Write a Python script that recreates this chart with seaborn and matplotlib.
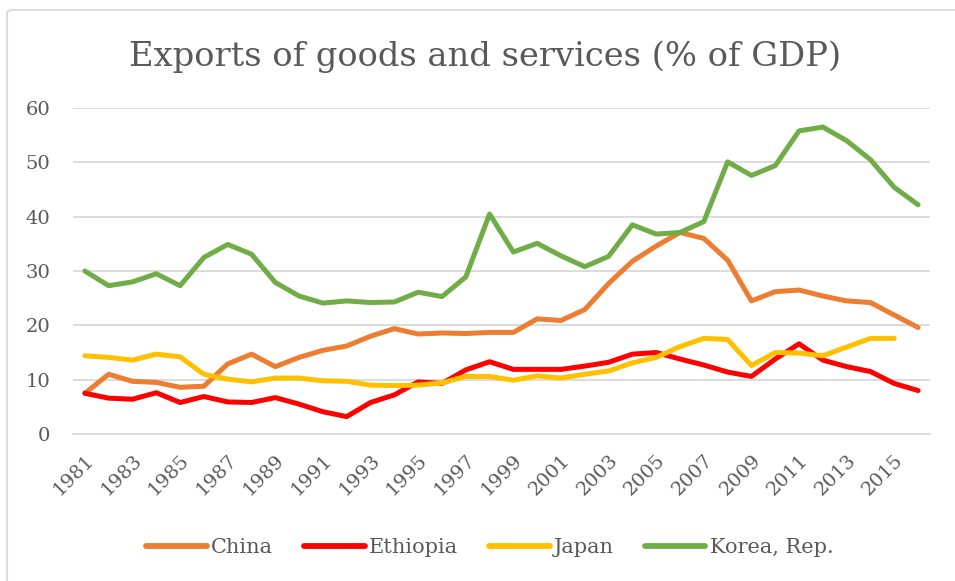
import matplotlib
matplotlib.use("Agg")
import matplotlib.pyplot as plt
from matplotlib.patches import FancyBboxPatch
import numpy as np
import pandas as pd
import seaborn as sns

years = list(range(1981, 2017))

china = [7.5, 11.0, 9.7, 9.5, 8.6, 8.8, 12.9, 14.7, 12.4, 14.1, 15.4, 16.2,
         18.0, 19.4, 18.4, 18.6, 18.5, 18.7, 18.7, 21.2, 20.9, 22.9, 27.7, 31.8,
         34.6, 37.1, 36.0, 32.0, 24.5, 26.2, 26.5, 25.4, 24.5, 24.2, 21.9, 19.6]

ethiopia = [7.5, 6.6, 6.4, 7.6, 5.8, 6.9, 5.9, 5.8, 6.7, 5.5, 4.1, 3.2,
            5.8, 7.2, 9.6, 9.3, 11.8, 13.3, 11.9, 11.9, 11.9, 12.5, 13.2, 14.7,
            15.0, 13.8, 12.7, 11.4, 10.6, 13.8, 16.6, 13.6, 12.4, 11.5, 9.3, 8.0]

japan = [14.4, 14.1, 13.6, 14.7, 14.2, 11.0, 10.1, 9.6, 10.3, 10.3, 9.8, 9.7,
         9.0, 8.9, 9.0, 9.4, 10.6, 10.6, 9.9, 10.7, 10.3, 11.0, 11.6, 13.1,
         14.1, 16.1, 17.6, 17.4, 12.6, 15.0, 14.9, 14.4, 16.0, 17.6, 17.6, np.nan]

korea = [30.0, 27.3, 28.0, 29.5, 27.3, 32.5, 34.9, 33.1, 27.9, 25.4, 24.1, 24.5,
         24.2, 24.3, 26.1, 25.3, 28.9, 40.5, 33.5, 35.1, 32.8, 30.8, 32.7, 38.5,
         36.8, 37.1, 39.1, 50.1, 47.6, 49.4, 55.8, 56.5, 54.0, 50.5, 45.4, 42.2]

countries = ["China", "Ethiopia", "Japan", "Korea, Rep."]
colors = ["#ED7D31", "#FF0000", "#FFC000", "#70AD47"]
y_ticks = [0, 10, 20, 30, 40, 50, 60]
x_tick_labels = [str(y) for y in years[::2]]

df = pd.DataFrame({"year": years, "China": china, "Ethiopia": ethiopia,
                   "Japan": japan, "Korea, Rep.": korea})
long_df = df.melt(id_vars="year", var_name="country", value_name="value")

sns.set_theme(style="white")
plt.rcParams["font.family"] = ["DejaVu Serif"]
text_grey = "#595959"
grid_grey = "#D9D9D9"

fig = plt.figure(figsize=(9.55, 5.81), dpi=100)
ax = fig.add_axes([0.0764, 0.253, 0.8974, 0.561])

# outer chart frame
frame = FancyBboxPatch((0.0075, -0.05), 1.2, 1.033, boxstyle="round,pad=0,rounding_size=0.006",
                       transform=fig.transFigure, facecolor="none",
                       edgecolor=grid_grey, linewidth=1.3, zorder=-5)
fig.patches.append(frame)

sns.lineplot(data=long_df, x="year", y="value", hue="country",
             hue_order=countries, palette=colors, linewidth=3.6,
             ax=ax, legend=False, solid_capstyle="round")

ax.set_xlim(1980.5, 2016.5)
ax.set_ylim(0, 60)
ax.set_yticks(y_ticks)
ax.set_yticklabels([str(v) for v in y_ticks])
ax.set_xticks(years[::2])
ax.set_xticklabels(x_tick_labels, rotation=45, ha="right", rotation_mode="anchor")
ax.tick_params(axis="both", length=0, labelsize=14, colors=text_grey)
ax.tick_params(axis="x", pad=12)
ax.tick_params(axis="y", pad=16.5)
ax.yaxis.grid(True, color=grid_grey, linewidth=1.3)
ax.xaxis.grid(False)
for side in ["top", "right", "left"]:
    ax.spines[side].set_visible(False)
ax.spines["bottom"].set_color(grid_grey)
ax.spines["bottom"].set_linewidth(1.3)
ax.set_xlabel("")
ax.set_ylabel("")

fig.text(0.508, 0.902, "Exports of goods and services (% of GDP)", ha="center",
         va="center", fontsize=24.3, color=text_grey)

handles = [plt.Line2D([], [], color=c, linewidth=4.2, solid_capstyle="round")
           for c in colors]
leg = fig.legend(handles, countries, loc="center", bbox_to_anchor=(0.513, 0.057),
                 ncol=4, frameon=False, fontsize=15, handlelength=2.9,
                 handletextpad=0.2, columnspacing=1.5)
for t in leg.get_texts():
    t.set_color(text_grey)

fig.savefig("out.png", dpi=100)
